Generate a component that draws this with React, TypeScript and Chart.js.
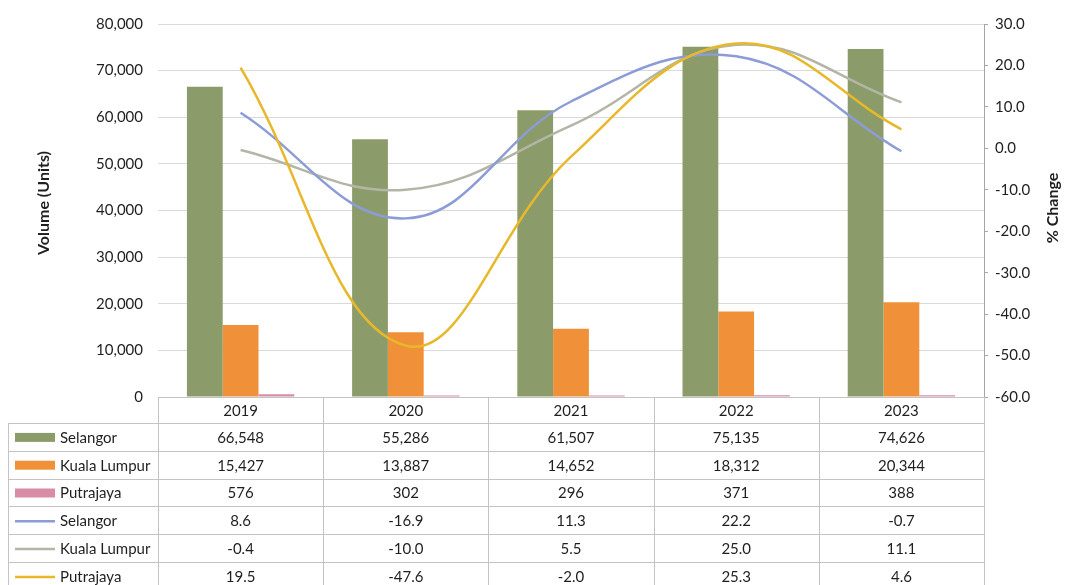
import { useEffect, useRef } from 'react';
import { Chart, registerables } from 'chart.js';

Chart.register(...registerables);

const years = ['2019', '2020', '2021', '2022', '2023'];
const selangorVolume = [66548, 55286, 61507, 75135, 74626];
const klVolume = [15427, 13887, 14652, 18312, 20344];
const putrajayaVolume = [576, 302, 296, 371, 388];
const selangorChange = [8.6, -16.9, 11.3, 22.2, -0.7];
const klChange = [-0.4, -10.0, 5.5, 25.0, 11.1];
const putrajayaChange = [19.5, -47.6, -2.0, 25.3, 4.6];

const FONT = 'Lato';
const TEXT = '#1F1F1F';

const tablePlugin = {
  id: 'dataTable',
  afterDraw(chart: any) {
    const ctx = chart.ctx as CanvasRenderingContext2D;
    const area = chart.chartArea;
    const xs = chart.scales.x;
    const n = years.length;
    const colW = (area.right - area.left) / n;
    const top = area.bottom;
    const headerH = 26;
    const rowH = 27.8;
    const leftX = 8;
    const dsets = chart.data.datasets;
    ctx.save();
    ctx.strokeStyle = '#C4C4C4';
    ctx.lineWidth = 1;
    const hl = (x1: number, x2: number, y: number) => {
      ctx.beginPath();
      ctx.moveTo(x1, Math.round(y) + 0.5);
      ctx.lineTo(x2, Math.round(y) + 0.5);
      ctx.stroke();
    };
    const vl = (x: number, y1: number, y2: number) => {
      ctx.beginPath();
      ctx.moveTo(Math.round(x) + 0.5, y1);
      ctx.lineTo(Math.round(x) + 0.5, y2);
      ctx.stroke();
    };
    const bottom = top + headerH + rowH * dsets.length;
    hl(area.left, area.right, top);
    for (let r = 0; r <= dsets.length; r++) {
      hl(leftX, area.right, top + headerH + r * rowH);
    }
    for (let c = 0; c <= n; c++) {
      vl(area.left + c * colW, top, bottom);
    }
    vl(leftX, top + headerH, bottom);

    ctx.font = `15px ${FONT}`;
    ctx.fillStyle = TEXT;
    ctx.textAlign = 'center';
    ctx.textBaseline = 'middle';
    years.forEach((yr, i) => {
      ctx.fillText(yr, xs.getPixelForValue(i), top + headerH / 2 + 1);
    });
    dsets.forEach((ds: any, r: number) => {
      const cy = top + headerH + r * rowH + rowH / 2 + 1;
      if (ds.type === 'bar') {
        ctx.fillStyle = ds.backgroundColor;
        ctx.fillRect(15, cy - 5, 40, 9);
      } else {
        ctx.strokeStyle = ds.borderColor;
        ctx.lineWidth = 2.5;
        ctx.beginPath();
        ctx.moveTo(15, cy);
        ctx.lineTo(55, cy);
        ctx.stroke();
      }
      ctx.fillStyle = TEXT;
      ctx.textAlign = 'left';
      ctx.fillText(ds.label, 60, cy);
      ctx.textAlign = 'center';
      ds.data.forEach((v: number, i: number) => {
        const s = ds.type === 'bar' ? v.toLocaleString('en-US') : v.toFixed(1);
        ctx.fillText(s, xs.getPixelForValue(i), cy);
      });
    });

    ctx.font = `bold 16px ${FONT}`;
    ctx.fillStyle = TEXT;
    ctx.textAlign = 'center';
    ctx.textBaseline = 'middle';
    ctx.save();
    ctx.translate(44, 203);
    ctx.rotate(-Math.PI / 2);
    ctx.fillText('Volume (Units)', 0, 0);
    ctx.restore();
    ctx.save();
    ctx.translate(1053, 208);
    ctx.rotate(-Math.PI / 2);
    ctx.fillText('% Change', 0, 0);
    ctx.restore();
    ctx.restore();
  },
};

export default function App() {
  const ref = useRef<HTMLCanvasElement>(null);
  useEffect(() => {
    if (!ref.current) return;
    const tickFont = { family: FONT, size: 15 };
    const chart = new Chart(ref.current, {
      data: {
        labels: years,
        datasets: [
          { type: 'bar', label: 'Selangor', data: selangorVolume, backgroundColor: '#8B9C6A', yAxisID: 'y', order: 2, categoryPercentage: 0.65, barPercentage: 1.0 },
          { type: 'bar', label: 'Kuala Lumpur', data: klVolume, backgroundColor: '#F0913A', yAxisID: 'y', order: 2, categoryPercentage: 0.65, barPercentage: 1.0 },
          { type: 'bar', label: 'Putrajaya', data: putrajayaVolume, backgroundColor: '#D88DA6', yAxisID: 'y', order: 2, categoryPercentage: 0.65, barPercentage: 1.0 },
          { type: 'line', label: 'Selangor', data: selangorChange, borderColor: '#8C9CD6', backgroundColor: '#8C9CD6', yAxisID: 'y1', order: 1, tension: 0.4, pointRadius: 0, borderWidth: 2.5, fill: false },
          { type: 'line', label: 'Kuala Lumpur', data: klChange, borderColor: '#B3B5A6', backgroundColor: '#B3B5A6', yAxisID: 'y1', order: 1, tension: 0.4, pointRadius: 0, borderWidth: 2.5, fill: false },
          { type: 'line', label: 'Putrajaya', data: putrajayaChange, borderColor: '#E8B82A', backgroundColor: '#E8B82A', yAxisID: 'y1', order: 0, tension: 0.4, pointRadius: 0, borderWidth: 2.5, fill: false },
        ] as any,
      },
      options: {
        responsive: false,
        animation: false,
        layout: { padding: { top: 21, bottom: 188, left: 0, right: 0 } },
        plugins: { legend: { display: false }, tooltip: { enabled: false } },
        scales: {
          x: { display: false, offset: true, grid: { display: false } },
          y: {
            position: 'left',
            min: 0,
            max: 80000,
            ticks: { stepSize: 10000, padding: 15, color: TEXT, font: tickFont, callback: (v: any) => Number(v).toLocaleString('en-US') },
            grid: { color: '#DADADA', drawTicks: false },
            border: { display: false },
            afterFit: (s: any) => { s.width = 158; },
          },
          y1: {
            position: 'right',
            min: -60,
            max: 30,
            ticks: { stepSize: 10, padding: 7, color: TEXT, font: tickFont, callback: (v: any) => Number(v).toFixed(1) },
            grid: { drawOnChartArea: false, tickLength: 4, color: '#A6A6A6' },
            border: { display: true, color: '#A6A6A6' },
            afterFit: (s: any) => { s.width = 83; },
          },
        },
      } as any,
      plugins: [tablePlugin],
    });
    return () => chart.destroy();
  }, []);
  return (
    <div style={{ position: 'absolute', left: 0, top: 0, width: 1067, height: 585, background: '#fff' }}>
      <canvas ref={ref} width={1067} height={585} style={{ width: 1067, height: 585, display: 'block' }} />
    </div>
  );
}
